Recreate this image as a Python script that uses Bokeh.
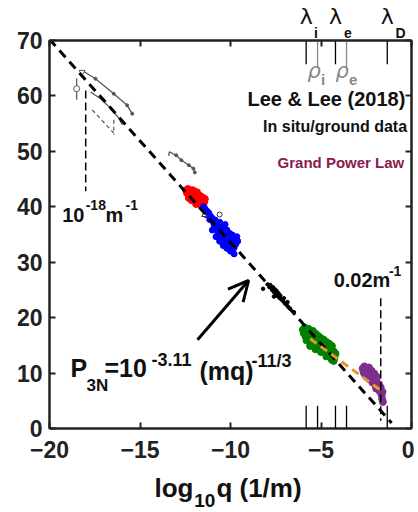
from bokeh.plotting import figure
from bokeh.models import Label, Arrow, OpenHead, LinearAxis, FixedTicker, Range1d
from bokeh.layouts import column
from bokeh.embed import file_html
from bokeh.resources import INLINE

# ---------------- data ----------------
x_ticks = [-20, -15, -10, -5, 0]
y_ticks = [0, 10, 20, 30, 40, 50, 60, 70]

# power-law fit lines (end points)
fit_x = [-20.0, -1.1]
fit_y = [70.2, 1.0]
grand_x = [-5.6, -1.75]
grand_y = [16.2, 7.0]

# scale markers (log10 q)
lambda_names = ["i", "e", "D"]
lambda_q = [-5.82, -4.20, -1.34]
lambda_sub_q = [-5.28, -3.51, -0.61]   # where the subscripts sit
rho_names = ["i", "e"]
rho_q = [-5.19, -3.59]

# reference wavenumbers
q18_x = [-18.0, -18.0]
q18_y = [61.0, 42.8]
q002_x = [-1.70, -1.70]
q002_y = [23.5, 1.4]

# clusters of in situ / ground data
red_x = [-12.45, -12.4, -12.35, -12.3, -12.25, -12.2, -12.15, -12.1, -12.05, -12.0,
         -11.95, -11.9, -11.85, -11.8, -11.75, -11.7, -11.65, -11.6, -11.55, -11.5,
         -11.45, -11.42, -12.3, -12.0, -11.8, -11.6, -12.15, -11.9]
red_y = [43.0, 42.5, 43.2, 42.1, 42.8, 41.7, 42.4, 43.0, 41.5, 42.2,
         41.0, 41.8, 42.6, 40.7, 41.4, 42.0, 40.4, 41.1, 41.7, 40.2,
         40.9, 41.4, 41.6, 42.8, 41.9, 40.6, 41.2, 40.5]

blue_x = [-11.5, -11.4, -11.3, -11.35, -11.2, -11.1, -11.15, -11.0, -10.95, -10.9,
          -10.85, -10.8, -10.75, -10.7, -10.65, -10.6, -10.55, -10.5, -10.45, -10.4,
          -10.35, -10.3, -10.25, -10.2, -10.15, -10.1, -10.05, -10.0, -9.95, -9.9,
          -9.85, -9.8, -9.75, -9.7, -9.65, -9.6, -10.6, -10.4, -10.2, -10.0,
          -9.8, -10.8, -11.0, -10.3, -9.9]
blue_y = [40.0, 39.6, 39.2, 38.6, 38.9, 38.3, 37.7, 37.9, 37.2, 36.6,
          37.6, 36.1, 36.9, 35.5, 36.4, 37.2, 35.0, 35.9, 34.4, 36.5,
          35.3, 34.0, 34.8, 35.8, 33.6, 34.4, 35.2, 33.1, 34.0, 34.9,
          33.5, 32.6, 34.2, 33.3, 34.6, 33.8, 33.8, 33.0, 32.5, 32.0,
          31.5, 34.6, 35.8, 36.8, 32.3]

black_x = [-7.95, -7.85, -7.8, -7.7, -7.65, -7.6, -7.55, -7.5, -7.45, -7.4,
           -7.35, -7.3, -7.25, -7.2, -7.1, -7.05, -7.0, -6.9, -6.85, -6.8,
           -6.7, -6.5, -8.2, -7.6]
black_y = [26.0, 25.5, 25.9, 25.0, 25.5, 24.6, 25.1, 24.2, 24.8, 23.9,
           24.4, 23.6, 24.0, 23.3, 23.0, 23.5, 22.6, 22.3, 22.8, 21.9,
           21.6, 21.0, 25.2, 23.8]

green_x = [-6.0, -5.95, -5.9, -5.85, -5.8, -5.75, -5.7, -5.65, -5.6, -5.55,
           -5.5, -5.45, -5.4, -5.35, -5.3, -5.25, -5.2, -5.15, -5.1, -5.05,
           -5.0, -4.95, -4.9, -4.85, -4.8, -4.75, -4.7, -4.65, -4.6, -4.55,
           -4.5, -4.45, -4.4, -4.35, -4.3, -4.25, -4.2, -5.6, -5.3, -5.0,
           -4.7, -4.4, -5.8, -4.3]
green_y = [17.8, 17.2, 18.2, 16.6, 17.6, 16.9, 18.0, 16.2, 17.3, 15.8,
           16.7, 17.6, 15.4, 16.3, 17.1, 15.0, 15.9, 16.7, 14.7, 15.5,
           16.3, 14.4, 15.2, 16.0, 14.1, 14.9, 15.6, 13.8, 14.6, 15.3,
           13.5, 14.3, 14.9, 13.2, 13.9, 12.8, 13.5, 14.9, 14.3, 13.8,
           13.0, 12.4, 15.9, 12.2]

purple_x = [-2.7, -2.65, -2.6, -2.55, -2.5, -2.45, -2.4, -2.35, -2.3, -2.25,
            -2.2, -2.15, -2.1, -2.05, -2.0, -1.95, -1.9, -1.85, -1.8, -1.75,
            -1.7, -1.65, -1.62, -1.6, -1.58, -2.45, -2.2, -1.95, -2.6]
purple_y = [10.8, 10.2, 11.2, 9.7, 10.6, 9.2, 10.1, 11.0, 8.8, 9.6,
            10.4, 8.3, 9.1, 9.9, 7.8, 8.6, 9.3, 7.3, 8.0, 6.7,
            7.4, 6.0, 5.3, 6.6, 4.8, 10.8, 9.0, 7.2, 9.9]

# earlier spectra (gray curves, top left)
c1_x = [-18.19, -17.46, -16.45, -15.71, -15.43]
c1_y = [64.6, 63.1, 60.4, 58.3, 56.8]
c2_x = [-17.73, -17.18, -16.63, -16.17, -15.98]
c2_y = [60.7, 59.5, 57.8, 56.0, 54.8]
c3_x = [-13.41, -13.38, -13.0, -12.71, -12.3, -12.05, -11.97]
c3_y = [49.2, 49.9, 49.3, 48.4, 47.5, 46.9, 46.2]
c4_x = [-17.64, -16.45]
c4_y = [57.5, 53.3]
c5_x = [-16.45, -16.45]
c5_y = [55.7, 53.0]
err_x = [-18.5, -18.5]
err_y = [63.2, 59.3]
pt_x = [-18.5]
pt_y = [61.3]

# ---------------- figures ----------------
FONT = "Liberation Sans"
W = 414
BL, BR = 49, 3
xr = Range1d(-20, 0)
INK = "#222222"


def lab(fig, x, y, t, size, color="#111111", style="bold", font=FONT):
    fig.add_layout(Label(x=x, y=y, text=t, text_font=font, text_font_size=size,
                         text_font_style=style, text_color=color,
                         text_align="left", text_baseline="middle"))


# main plot
p = figure(width=W, height=472, x_range=xr, y_range=Range1d(0, 70),
           output_backend="svg", toolbar_location=None,
           min_border_left=BL, min_border_right=BR, min_border_top=36,
           min_border_bottom=44)
p.grid.visible = False
p.outline_line_color = INK
p.outline_line_width = 2

for ax in [p.xaxis[0], p.yaxis[0]]:
    ax.major_tick_in = 6
    ax.major_tick_out = 0
    ax.minor_tick_line_color = None
    ax.major_tick_line_width = 2
    ax.axis_line_width = 2
    ax.axis_line_color = INK
    ax.major_tick_line_color = INK
    ax.major_label_text_font = FONT
    ax.major_label_text_font_style = "bold"
    ax.major_label_text_font_size = "23px"
    ax.major_label_text_color = INK
p.xaxis.ticker = FixedTicker(ticks=x_ticks)
p.yaxis.ticker = FixedTicker(ticks=y_ticks)
p.xaxis.major_label_standoff = 12
p.yaxis.major_label_standoff = 7

# box ticks on right and top
for loc, ticks in [("right", y_ticks), ("above", x_ticks)]:
    ax = LinearAxis(ticker=FixedTicker(ticks=ticks))
    ax.major_tick_in = 6
    ax.major_tick_out = 0
    ax.minor_tick_line_color = None
    ax.major_tick_line_width = 2
    ax.axis_line_width = 2
    ax.axis_line_color = INK
    ax.major_tick_line_color = INK
    ax.major_label_text_font_size = "0px"
    ax.major_label_text_color = None
    ax.major_label_standoff = 0
    p.add_layout(ax, loc)

# lambda subscripts (inner) and lambda symbols (outer) above the box
ax_sub = LinearAxis(ticker=FixedTicker(ticks=lambda_sub_q),
                    major_label_overrides={q: n for q, n in zip(lambda_sub_q, lambda_names)})
ax_lam = LinearAxis(ticker=FixedTicker(ticks=lambda_q),
                    major_label_overrides={q: "λ" for q in lambda_q})
for ax, fnt, size, style, so in [(ax_sub, FONT, "14px", "bold", 0),
                                 (ax_lam, "DejaVu Sans", "22px", "normal", -7)]:
    ax.axis_line_color = None
    ax.major_tick_line_color = None
    ax.minor_tick_line_color = None
    ax.major_tick_in = 0
    ax.major_tick_out = 0
    ax.major_label_text_font = fnt
    ax.major_label_text_font_size = size
    ax.major_label_text_font_style = style
    ax.major_label_text_color = "#111111"
    ax.major_label_standoff = so
    p.add_layout(ax, "above")

# gray earlier spectra
g = "#555555"
p.line(c1_x, c1_y, line_color=g, line_width=1.3)
p.scatter(c1_x[1:], c1_y[1:], size=3, color=g)
p.line(c2_x, c2_y, line_color=g, line_width=1.3)
p.line(c3_x, c3_y, line_color=g, line_width=1.3)
p.scatter(c3_x[2:], c3_y[2:], size=3, color=g)
p.line(c4_x, c4_y, line_color=g, line_width=1.2, line_dash="4 3")
p.line(c5_x, c5_y, line_color=g, line_width=1.2, line_dash="4 3")
p.line(err_x, err_y, line_color=g, line_width=1.2)
p.scatter(pt_x, pt_y, size=6, marker="circle", fill_color="white", line_color=g)
p.scatter([-18.2], [64.3], size=6, marker="inverted_triangle", fill_color="white", line_color=g)

# scatter clusters
p.scatter(red_x, red_y, size=7, color="#FF0000")
p.scatter(blue_x, blue_y, size=6, color="#0000FF")
p.scatter(black_x, black_y, size=3.5, color="#000000")
p.scatter(green_x, green_y, size=7, color="#008000")
p.scatter(purple_x, purple_y, size=7, color="#7E2F8E")
p.scatter([-11.45], [38.5], size=5, marker="triangle", fill_color="white", line_color="#333333")
p.scatter([-10.6], [38.6], size=5, marker="circle", fill_color="white", line_color="#333333")

# fit lines
p.line(fit_x, fit_y, line_color="black", line_width=3, line_dash="9 6")
p.line(grand_x, grand_y, line_color="#E8952C", line_width=3, line_dash="8 5")

# reference verticals
p.line(q18_x, q18_y, line_color="black", line_width=1.5, line_dash="8 4")
p.line(q002_x, q002_y, line_color="black", line_width=1.5, line_dash="8 4")

# scale marks top & bottom
for q in lambda_q:
    p.line([q, q], [70, 65.7], line_color="black", line_width=1.3)
    p.line([q, q], [0, 4.1], line_color="black", line_width=1.3)
for q in rho_q:
    p.line([q, q], [70.8, 65.2], line_color="#888888", line_width=1.3)
    p.line([q, q], [0, 4.1], line_color="black", line_width=1.3)

rho_x = [-5.75, -4.2]
for xx, nm in zip(rho_x, rho_names):
    lab(p, xx, 64.5, "ρ", "21px", color="#888888", style="italic", font="DejaVu Sans")
    lab(p, xx + 0.75, 62.9, nm, "15px", color="#888888")

lab(p, -9.06, 59.5, "Lee & Lee (2018)", "20px")
lab(p, -8.2, 54.4, "In situ/ground data", "16px")
lab(p, -7.4, 48.0, "Grand Power Law", "15px", color="#8B1A4F")

# 10^-18 m^-1
lab(p, -19.3, 38.6, "10", "20px")
lab(p, -18.0, 40.3, "-18", "14px")
lab(p, -16.9, 38.6, "m", "20px")
lab(p, -15.8, 40.3, "-1", "14px")

# 0.02 m^-1
lab(p, -4.3, 26.8, "0.02m", "20px")
lab(p, -1.25, 28.4, "-1", "14px")

# formula
lab(p, -18.84, 10.9, "P", "25px")
lab(p, -17.96, 7.7, "3N", "17px")
lab(p, -16.96, 10.9, "=10", "25px")
lab(p, -14.36, 12.5, "-3.11", "18px")
lab(p, -11.71, 10.3, "(mq)", "25px")
lab(p, -8.84, 12.2, "-11/3", "18px")

p.add_layout(Arrow(end=OpenHead(size=20, line_width=3, line_color="black"),
                   x_start=-11.82, y_start=16.0, x_end=-9.0, y_end=26.7,
                   line_width=3, line_color="black"))

# bottom strip with x-axis title
bot = figure(width=W, height=40, x_range=xr, y_range=Range1d(0, 40),
             output_backend="svg", toolbar_location=None,
             min_border_left=BL, min_border_right=BR, min_border_top=0,
             min_border_bottom=0)
bot.axis.visible = False
bot.grid.visible = False
bot.outline_line_color = None
lab(bot, -14.2, 25, "log", "26px")
lab(bot, -12.0, 12.5, "10", "19px")
lab(bot, -10.78, 25, "q (1/m)", "26px")

layout = column(p, bot, spacing=0)
open("out.html", "w").write(file_html(layout, INLINE))
